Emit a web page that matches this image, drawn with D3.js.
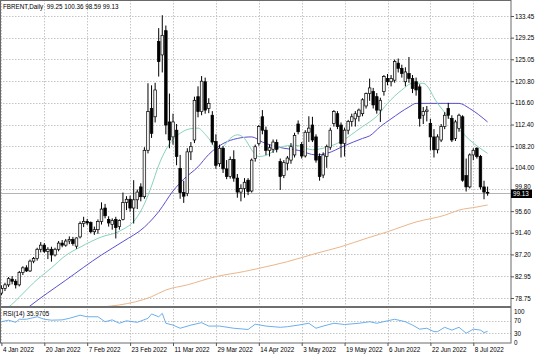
<!DOCTYPE html>
<html><head><meta charset="utf-8">
<script src="https://cdn.jsdelivr.net/npm/d3@7"></script>
<style>
html,body{margin:0;padding:0;background:#fff;}
svg{display:block;font-family:"Liberation Sans",Arial,sans-serif;}
</style></head>
<body><svg id="c" width="536" height="357"></svg>
<script>
// ---- data ----
const dates = ["01-04","01-05","01-06","01-07","01-10","01-11","01-12","01-13","01-14","01-17","01-18","01-19","01-20","01-21","01-24","01-25","01-26","01-27","01-28","01-31",
"02-01","02-02","02-03","02-04","02-07","02-08","02-09","02-10","02-11","02-14","02-15","02-16","02-17","02-18","02-21","02-22","02-23","02-24","02-25","02-28",
"03-01","03-02","03-03","03-04","03-07","03-08","03-09","03-10","03-11","03-14","03-15","03-16","03-17","03-18","03-21","03-22","03-23","03-24","03-25","03-28","03-29","03-30","03-31",
"04-01","04-04","04-05","04-06","04-07","04-08","04-11","04-12","04-13","04-14","04-18","04-19","04-20","04-21","04-22","04-25","04-26","04-27","04-28","04-29",
"05-02","05-03","05-04","05-05","05-06","05-09","05-10","05-11","05-12","05-13","05-16","05-17","05-18","05-19","05-20","05-23","05-24","05-25","05-26","05-27","05-30","05-31",
"06-01","06-02","06-03","06-06","06-07","06-08","06-09","06-10","06-13","06-14","06-15","06-16","06-17","06-20","06-21","06-22","06-23","06-24","06-27","06-28","06-29","06-30",
"07-01","07-04","07-05","07-06","07-07","07-08","07-11","07-12","07-13","07-14"];

const open = [79.7,80.6,81.3,82.4,82.0,81.3,83.7,84.6,84.0,85.9,86.4,88.2,89.0,87.8,88.2,87.1,88.2,89.4,89.0,89.8,
90.1,88.8,90.6,93.2,93.6,93.4,91.6,92.0,93.6,96.2,94.0,93.0,94.0,92.6,94.0,97.3,97.9,96.2,97.8,100.3,
98.4,107.4,115.5,113.9,128.5,125.9,130.6,112.9,110.0,111.3,103.9,99.2,99.0,107.1,109.4,117.8,114.9,120.7,115.5,114.2,109.1,104.8,107.8,
103.8,102.3,105.6,102.0,99.3,100.0,101.6,99.5,105.8,108.7,113.9,111.3,107.4,107.6,108.9,105.2,102.5,104.9,105.5,106.5,
112.5,108.5,106.3,110.9,112.3,110.0,106.2,102.6,106.2,108.0,112.6,114.5,112.3,108.7,111.3,113.0,113.5,114.0,114.5,116.0,118.4,118.8,
117.8,115.2,118.8,121.3,120.7,121.0,124.3,123.3,120.7,122.3,121.3,120.7,119.7,114.2,114.9,112.6,110.0,107.5,109.4,112.0,115.5,113.6,
109.7,111.6,113.9,102.5,100.3,106.5,107.8,106.2,100.3,99.25];
const high = [81.2,81.7,82.8,83.0,82.4,84.0,84.9,85.1,86.2,86.7,88.5,89.6,89.4,88.6,88.7,88.5,89.8,90.0,90.2,90.7,
90.6,90.5,93.6,94.5,94.1,93.6,92.6,94.0,97.3,97.0,94.6,94.2,94.5,94.0,99.2,98.5,98.6,101.6,99.8,101.0,
108.0,120.4,120.0,120.5,131.1,133.6,131.6,118.4,114.5,112.5,106.5,101.5,107.8,109.0,117.8,119.8,121.8,121.5,117.5,115.0,110.5,108.5,108.2,
105.5,106.2,107.4,102.8,100.8,102.0,102.0,105.8,108.5,112.3,115.2,112.0,108.5,109.5,109.5,105.8,105.5,106.3,108.8,110.8,
113.2,109.0,111.3,114.0,113.9,110.5,106.8,107.0,108.5,111.8,115.2,115.0,112.8,111.8,113.3,114.5,115.0,115.5,117.5,118.6,121.3,119.5,
118.5,117.6,122.0,122.2,122.0,125.0,125.2,124.0,123.5,125.5,122.0,121.5,120.2,115.8,116.0,113.5,111.5,110.5,112.5,114.8,116.6,114.2,
113.3,114.5,114.2,105.8,106.8,107.8,108.0,106.5,101.5,100.36];
const low = [79.3,80.1,80.9,81.4,80.6,81.0,83.2,83.8,83.8,85.5,86.0,87.6,87.5,86.3,85.8,86.8,87.8,88.6,88.7,89.2,
88.9,88.3,90.3,92.5,92.9,91.3,91.0,91.2,93.0,94.2,92.6,92.0,90.3,92.0,93.8,95.8,95.5,93.2,96.0,97.5,
98.0,106.8,109.8,112.8,121.7,122.5,110.5,107.8,108.5,104.5,98.0,97.2,98.5,105.5,108.8,113.8,114.2,114.5,114.6,108.5,103.8,104.2,103.0,
101.8,101.9,101.3,98.2,97.5,98.2,98.7,99.2,105.2,108.3,110.5,106.5,106.2,106.9,107.0,99.7,102.0,103.5,104.8,106.0,
110.5,105.8,106.0,109.0,109.0,105.0,101.5,102.0,104.0,107.5,112.0,111.5,106.0,106.2,110.5,112.0,112.0,113.0,114.0,115.5,117.0,115.5,
114.5,112.9,118.0,120.0,119.8,120.5,122.5,121.5,119.8,120.5,118.5,118.0,112.0,112.5,113.0,107.4,106.0,106.8,109.0,111.5,113.5,109.0,
109.2,111.0,101.3,99.4,100.0,105.5,105.8,99.8,97.9,98.59];
const close = [80.6,81.3,82.5,82.0,81.3,83.7,84.6,84.0,85.9,86.4,88.2,89.0,87.8,88.2,87.1,88.2,89.4,89.0,89.8,90.1,
89.3,90.4,93.2,93.6,93.3,91.6,92.0,93.6,96.0,94.7,93.3,93.8,92.4,93.8,97.3,97.9,96.2,97.8,99.3,98.4,
107.4,114.9,110.7,119.1,124.6,129.7,112.3,109.4,112.9,106.2,99.2,98.5,107.1,108.1,117.1,114.9,120.8,115.2,116.5,109.0,104.5,107.8,103.8,
102.3,105.6,102.0,99.3,100.0,101.2,99.4,105.5,108.1,112.0,111.3,107.4,107.9,109.0,107.6,102.3,105.0,105.9,108.1,110.3,
111.0,106.3,110.9,111.7,109.4,105.5,102.3,106.5,108.1,111.3,114.9,112.0,108.7,111.3,113.0,113.9,114.5,115.2,117.2,118.4,119.5,116.2,
115.2,117.1,121.7,120.7,121.3,124.6,123.3,122.3,122.6,121.3,119.4,119.1,113.6,114.9,115.2,110.0,107.5,110.0,112.0,114.2,114.2,109.4,
112.9,114.2,101.6,100.3,106.5,107.4,106.2,100.3,99.3,99.13];

// moving averages and RSI: [bar index, value]
const maFast = [[0,76.3],[2,77.0],[5,78.9],[9,81.7],[14,84.6],[18,87.0],[22,88.6],[28,90.6],[33,91.7],[38,94.5],[40,97.0],[42,100.5],[44,104.5],[46,107.5],[48,109.5],[50,110.7],[53,111.6],[55,111.7],[57,110.5],[59,108.7],[60,107.5],[62,108.1],[64,109.7],[66,110.4],[68,109.7],[70,107.5],[72,106.2],[74,106.4],[78,108.0],[82,108.4],[87,107.5],[91,108.0],[95,109.1],[99,111.0],[101,112.0],[103,112.9],[105,114.0],[108,116.5],[112,119.1],[115,120.4],[118,120.4],[122,116.5],[125,113.9],[128,111.5],[131,109.4],[136,106.8]];
const maMid = [[0,72.5],[8,77.2],[18,82.2],[28,87.1],[34,89.7],[40,92.5],[44,95.5],[48,99.5],[51,101.8],[55,104.2],[58,106.6],[62,108.7],[66,109.7],[70,110.0],[73,109.0],[79,107.8],[83,107.4],[88,106.5],[91,106.8],[96,108.3],[101,109.7],[103,110.2],[106,112.0],[109,113.5],[114,115.8],[116,116.5],[128,116.5],[131,115.5],[136,112.9]];
const maSlow = [[0,73.8],[20,76.2],[28,77.0],[33,77.4],[42,79.0],[46,80.3],[52,81.3],[60,82.9],[68,83.9],[72,84.5],[80,85.8],[88,87.4],[95,88.7],[102,90.3],[108,91.6],[116,93.5],[124,94.8],[128,95.8],[133,96.4],[136,96.8]];
const rsi = [[0,67],[2,72],[4,65],[5,75],[7,75],[10,83],[12,75],[14,72],[17,73],[19,78],[22,88],[24,83],[27,83],[29,67],[31,73],[33,62],[35,70],[38,65],[41,78],[42,92],[44,83],[45,94],[46,62],[48,56],[50,46],[53,56],[56,64],[58,53],[61,53],[65,46],[69,42],[71,59],[74,53],[78,49],[80,51],[83,56],[86,62],[88,46],[90,53],[93,62],[96,58],[100,62],[103,67],[105,62],[108,70],[110,75],[113,67],[115,56],[117,43],[119,46],[121,35],[122,35],[124,49],[126,40],[128,49],[130,30],[132,43],[134,40],[135,32],[136,35.97]];

const priceTicks = [133.45,129.25,125.05,120.80,116.60,112.40,108.20,104.00,99.80,95.60,91.40,87.20,82.95,78.75];
const rsiTicks = [100,70,30,0];
const rsiLevels = [70,30];
const monthNames = ["Jan","Feb","Mar","Apr","May","Jun","Jul","Aug","Sep","Oct","Nov","Dec"];
const title = "FBRENT,Daily  99.25 100.36 98.59 99.13";
const rsiTitle = "RSI(14) 35.9705";

// ---- layout ----
const svg = d3.select("#c");
const R = 511, MAINB = 306, RT = 308, RB = 343;
const x = d3.scaleLinear().domain([0, dates.length-1]).range([1.4, 487.6]);
const y = d3.scaleLinear().domain([78.75,133.45]).range([298,16]);
const yr = d3.scaleLinear().domain([0,100]).range([342.5,311.5]);
const FS = 6.3;

const defs = svg.append("defs");
defs.append("clipPath").attr("id","cm").append("rect").attr("x",0).attr("y",0).attr("width",R).attr("height",MAINB);
defs.append("clipPath").attr("id","cr").append("rect").attr("x",0).attr("y",RT).attr("width",R).attr("height",RB-RT);

const gridC = "#c4c4c4";
const tickIdx = d3.range(0, dates.length, 12);

// grid
const g = svg.append("g");
g.selectAll(".hg").data(priceTicks).join("line")
 .attr("x1",0).attr("x2",R).attr("y1",d=>Math.round(y(d))+0.5).attr("y2",d=>Math.round(y(d))+0.5)
 .attr("stroke",gridC).attr("stroke-width",1).attr("stroke-dasharray","1.5,1.5");
g.selectAll(".vg").data(tickIdx).join("line")
 .attr("x1",d=>Math.round(x(d))+0.5).attr("x2",d=>Math.round(x(d))+0.5).attr("y1",0).attr("y2",RB)
 .attr("stroke",gridC).attr("stroke-width",1).attr("stroke-dasharray","1.5,1.5");
g.selectAll(".rl").data(rsiLevels).join("line")
 .attr("x1",0).attr("x2",R).attr("y1",d=>Math.round(yr(d))+0.5).attr("y2",d=>Math.round(yr(d))+0.5)
 .attr("stroke",gridC).attr("stroke-width",1).attr("stroke-dasharray","1.5,1.5");

// bid line
const last = close[close.length-1];
svg.append("line").attr("x1",0).attr("x2",R).attr("y1",Math.round(y(last))+0.5).attr("y2",Math.round(y(last))+0.5)
 .attr("stroke","#b5b5b5").attr("stroke-width",1);

// MAs
const main = svg.append("g").attr("clip-path","url(#cm)");
const ln = d3.line().x(d=>x(d[0])).y(d=>y(d[1])).curve(d3.curveMonotoneX);
main.append("path").attr("d",ln(maSlow)).attr("fill","none").attr("stroke","#eab68a").attr("stroke-width",1);
main.append("path").attr("d",ln(maMid)).attr("fill","none").attr("stroke","#5a4fcf").attr("stroke-width",1);
main.append("path").attr("d",ln(maFast)).attr("fill","none").attr("stroke","#86d3b6").attr("stroke-width",1);

// candles
const bars = dates.map((d,i)=>({i,o:open[i],h:high[i],l:low[i],c:close[i]}));
const cg = main.selectAll(".cd").data(bars).join("g");
cg.append("line").attr("x1",d=>x(d.i)).attr("x2",d=>x(d.i)).attr("y1",d=>y(d.h)).attr("y2",d=>y(d.l))
 .attr("stroke","#000").attr("stroke-width",1);
const BW = 2.6;
cg.append("rect").attr("x",d=>x(d.i)-BW/2).attr("width",BW)
 .attr("y",d=>y(Math.max(d.o,d.c))).attr("height",d=>Math.max(0.8, Math.abs(y(d.o)-y(d.c))))
 .attr("fill",d=>d.c>=d.o?"#f4f4f4":"#000").attr("stroke","#000").attr("stroke-width",0.7);

// RSI
const rg = svg.append("g").attr("clip-path","url(#cr)");
rg.append("path").attr("d",d3.line().x(d=>x(d[0])).y(d=>yr(d[1]))(rsi))
 .attr("fill","none").attr("stroke","#5aa6ea").attr("stroke-width",0.9);

// frame
svg.append("rect").attr("x",0.5).attr("y",0.5).attr("width",R-0.5).attr("height",RB-0.5)
 .attr("fill","none").attr("stroke","#6a6a6a").attr("stroke-width",1);
svg.append("rect").attr("x",0).attr("y",MAINB).attr("width",R).attr("height",2).attr("fill","#6e6e6e");

// price axis
const pa = d3.axisRight(y).tickValues(priceTicks).tickSize(3).tickFormat(d3.format(".2f"));
const pax = svg.append("g").attr("transform",`translate(${R},0)`).call(pa);
pax.select(".domain").remove();
pax.selectAll("text").attr("x",4).attr("font-size",FS).attr("font-family","Liberation Sans, Arial").attr("fill","#000");
pax.selectAll("line").attr("stroke","#555");
// the label next to the bid price sits just above the bid box
pax.selectAll(".tick").filter(d=>Math.abs(y(d)-y(last))<7).select("text").attr("y",-3.2);

// bid box
const by = Math.round(y(last));
svg.append("rect").attr("x",R).attr("y",by-3.5).attr("width",21).attr("height",8.5).attr("fill","#000");
svg.append("text").attr("x",R+2).attr("y",by+0.75).attr("dy","0.35em").attr("font-size",FS).attr("fill","#fff").text(last.toFixed(2));

// rsi axis
const ra = d3.axisRight(yr).tickValues(rsiTicks).tickSize(0).tickFormat(d3.format("d"));
const rax = svg.append("g").attr("transform",`translate(${R},0)`).call(ra);
rax.select(".domain").remove();
rax.selectAll("text").attr("x",3).attr("font-size",FS).attr("font-family","Liberation Sans, Arial").attr("fill","#000");

// date axis
const fmtDate = i => { const [m,dd] = dates[i].split("-"); return `${+dd} ${monthNames[+m-1]} 2022`; };
const da = d3.axisBottom(x).tickValues(tickIdx).tickSize(3).tickFormat(fmtDate);
const dax = svg.append("g").attr("transform",`translate(0,${RB})`).call(da);
dax.select(".domain").remove();
dax.selectAll("line").attr("stroke","#555");
dax.selectAll("text").attr("text-anchor","start").attr("x",1).attr("y",5).attr("dy","0.71em")
 .attr("font-size",FS).attr("font-family","Liberation Sans, Arial").attr("fill","#000");

// titles
svg.append("text").attr("x",3).attr("y",9).attr("font-size",FS).attr("fill","#000").attr("xml:space","preserve").text(title);
svg.append("text").attr("x",3).attr("y",316).attr("font-size",FS).attr("fill","#000").text(rsiTitle);
</script></body></html>
